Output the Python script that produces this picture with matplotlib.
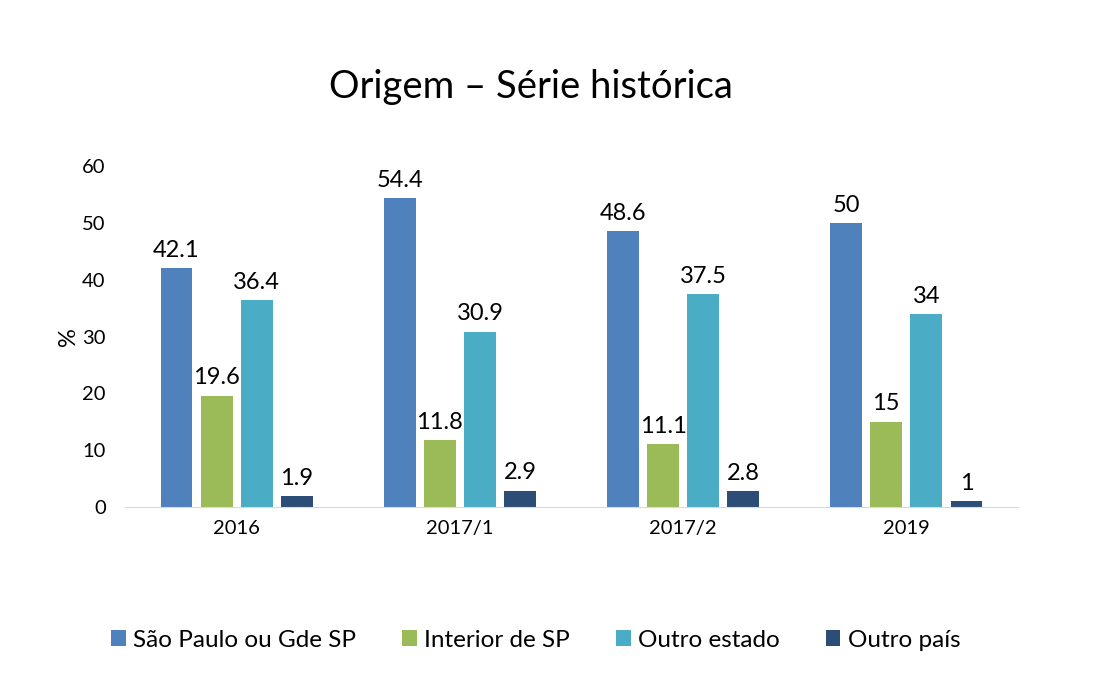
import numpy as np
import matplotlib.pyplot as plt

plt.rcParams['font.family'] = ['Lato', 'DejaVu Sans']

periodos = ['2016', '2017/1', '2017/2', '2019']
series = ['São Paulo ou Gde SP', 'Interior de SP', 'Outro estado', 'Outro país']
sao_paulo = [42.1, 54.4, 48.6, 50]
interior = [19.6, 11.8, 11.1, 15]
outro_estado = [36.4, 30.9, 37.5, 34]
outro_pais = [1.9, 2.9, 2.8, 1]
cores = ['#4F81BD', '#9BBB59', '#4BACC6', '#2C4D75']

valores = [sao_paulo, interior, outro_estado, outro_pais]

fig = plt.figure(figsize=(10.98, 6.87), dpi=100)
ax = fig.add_axes([0.114, 0.262, 0.813, 0.496])

x = np.arange(len(periodos))
passo = 0.18
larg = 0.143
for i, (nome, v, c) in enumerate(zip(series, valores, cores)):
    pos = x + (i - 1.5) * passo
    bars = ax.bar(pos, v, width=larg, color=c, label=nome)
    for b, val in zip(bars, v):
        ax.text(b.get_x() + b.get_width() / 2, val + 1.3, f'{val:g}',
                ha='center', va='bottom', fontsize=17)

ax.set_xlim(-0.5, 3.5)
ax.set_ylim(0, 60)
ax.set_yticks(range(0, 61, 10))
ax.set_xticks(x)
ax.set_xticklabels(periodos)
ax.tick_params(length=0, labelsize=14.5)
ax.tick_params(axis='x', pad=9)
ax.tick_params(axis='y', pad=14)
for s in ['top', 'right', 'left']:
    ax.spines[s].set_visible(False)
ax.spines['bottom'].set_color('#D9D9D9')
ax.set_ylabel('%', fontsize=17, labelpad=2)

fig.text(0.484, 0.873, 'Origem – Série histórica', ha='center', va='center', fontsize=27.5)

fig.legend(loc='center', bbox_to_anchor=(0.488, 0.068), ncol=4, frameon=False,
           fontsize=17.5, handlelength=0.6, handleheight=0.6, handletextpad=0.3,
           columnspacing=1.9)

fig.savefig('out.png', dpi=100)
